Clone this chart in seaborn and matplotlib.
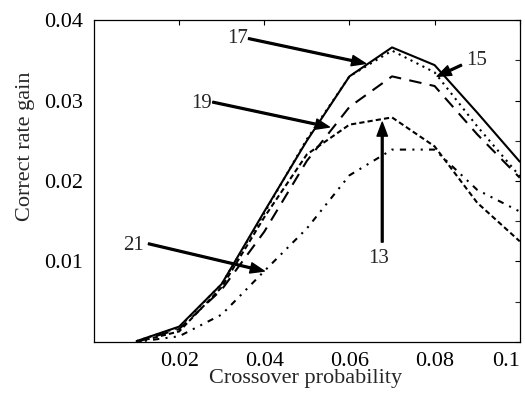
import matplotlib
matplotlib.use("Agg")
import matplotlib.pyplot as plt
import matplotlib.ticker as mticker
import seaborn as sns

sns.set_theme(style="white")
plt.rcParams['font.family'] = ['Liberation Serif', 'DejaVu Serif']

# crossover probability
x = [0.01, 0.02, 0.03, 0.04, 0.05, 0.06, 0.07, 0.08, 0.09, 0.10]
# correct rate gain for each population label
g17 = [0.0001, 0.0019, 0.0072, 0.0162, 0.0250, 0.0330, 0.0366, 0.0344, 0.0285, 0.0224]
g15 = [0.0001, 0.0018, 0.0072, 0.0160, 0.0252, 0.0330, 0.0362, 0.0335, 0.0268, 0.0206]
g19 = [0.0000, 0.0016, 0.0065, 0.0137, 0.0225, 0.0292, 0.0330, 0.0318, 0.0258, 0.0204]
g13 = [0.0000, 0.0013, 0.0068, 0.0155, 0.0233, 0.0270, 0.0279, 0.0243, 0.0173, 0.0125]
g21 = [0.0000, 0.0007, 0.0034, 0.0088, 0.0141, 0.0207, 0.0239, 0.0239, 0.0189, 0.0162]

xticks = [0.02, 0.04, 0.06, 0.08, 0.1]
xticklabels = ["0.02", "0.04", "0.06", "0.08", "0.1"]
yticks = [0.01, 0.02, 0.03, 0.04]
yticklabels = ["0.01", "0.02", "0.03", "0.04"]

fig = plt.figure(figsize=(5.25, 3.93), dpi=100)
ax = fig.add_axes([0.179, 0.130, 0.811, 0.819])

styles = [
    (g17, "-"),
    (g15, (0, (1, 2.2))),
    (g19, (0, (6, 4))),
    (g13, (0, (2.5, 1.5))),
    (g21, (0, (1, 3, 1, 3, 3, 3))),
]
for vals, ls in styles:
    sns.lineplot(x=x, y=vals, ax=ax, color="black", lw=1.5, linestyle=ls)

ax.set_xlim(0, 0.1)
ax.set_ylim(0, 0.04)
ax.set_xticks(xticks)
ax.set_xticklabels(xticklabels)
ax.set_yticks(yticks)
ax.set_yticklabels(yticklabels)
ax.yaxis.set_minor_locator(mticker.MultipleLocator(0.005))
ax.tick_params(which="major", direction="in", length=3.5, width=0.8, top=True, right=True,
               labelsize=16, colors="black")
ax.tick_params(axis="x", pad=7)
ax.tick_params(axis="y", pad=8)
ax.tick_params(axis="y", which="minor", direction="in", length=3.5, width=0.8,
               left=False, right=True)
# last label sits against the figure edge
ax.get_xticklabels()[-1].set_ha("right")
for sp in ax.spines.values():
    sp.set_linewidth(0.9)
    sp.set_color("black")

ax.set_xlabel("Crossover probability", fontsize=16)
ax.set_ylabel("Correct rate gain", fontsize=16)
ax.xaxis.set_label_coords(0.498, -0.084)
ax.yaxis.set_label_coords(-0.139, 0.609)

arrow = dict(facecolor="black", edgecolor="black", width=1.3, headwidth=7.5, headlength=10, shrink=0)
notes = [
    ("17", (0.0338, 0.0377), (0.0363, 0.0377), (0.0638, 0.0346)),
    ("15", (0.0899, 0.0350), (0.0863, 0.0344), (0.0806, 0.0330)),
    ("19", (0.0252, 0.02965), (0.0279, 0.0298), (0.0553, 0.0267)),
    ("13", (0.0669, 0.0104), (0.0677, 0.0124), (0.0677, 0.0273)),
    ("21", (0.0092, 0.0120), (0.0128, 0.0122), (0.0400, 0.0088)),
]
for label, tpos, tail, tip in notes:
    ax.text(tpos[0], tpos[1], label, fontsize=15, ha="center", va="center")
    ax.annotate("", xy=tip, xytext=tail, arrowprops=arrow)

fig.savefig("out.png", dpi=100)
